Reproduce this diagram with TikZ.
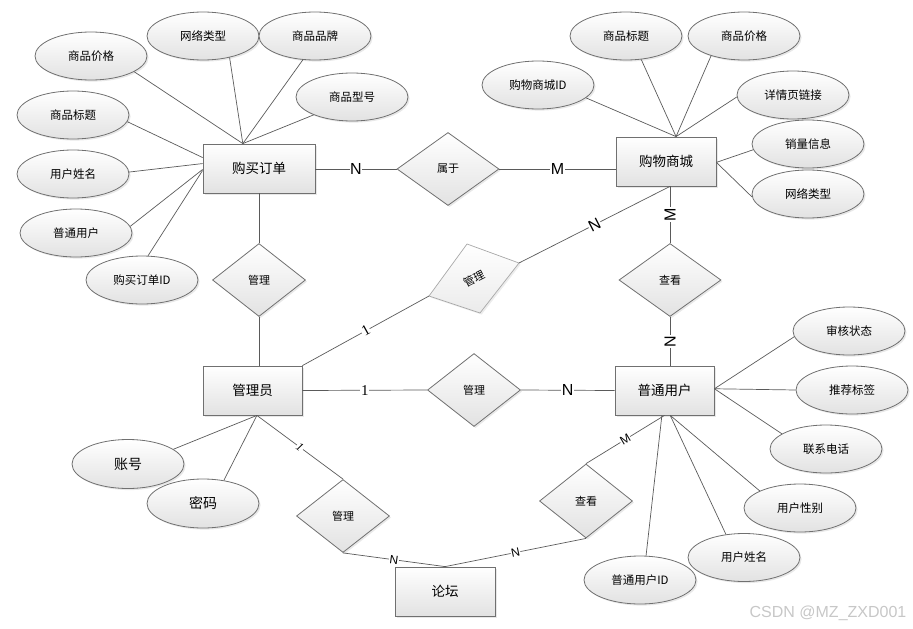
\documentclass[tikz,border=0pt]{standalone}
\usepackage{fontspec}
\newfontfamily\cjk{Noto Sans CJK SC}
\newfontfamily\lab{Liberation Sans}
\newfontfamily\labs{Liberation Serif}
\usetikzlibrary{shapes.geometric,shadows}
\definecolor{edgec}{HTML}{5A5A5A}
\definecolor{bord}{HTML}{707070}
\definecolor{bordl}{HTML}{A8A8A8}
\definecolor{fillb}{HTML}{E2E2E2}
\begin{document}
\begin{tikzpicture}[x=1pt,y=-1pt,
 every node/.style={font=\cjk},
 base/.style={draw=bord, line width=0.8pt, top color=white, bottom color=fillb,
   drop shadow={shadow xshift=1.6pt,shadow yshift=-1.6pt,opacity=0.18}},
 ent/.style={base, rectangle, minimum width=100pt, minimum height=49pt, inner sep=0pt, font=\cjk\fontsize{13.5}{14}\selectfont},
 attr/.style={base, ellipse, minimum width=112pt, minimum height=48pt, inner sep=0pt, font=\cjk\fontsize{11.5}{12}\selectfont},
 rel/.style={base, diamond, minimum width=93pt, minimum height=73pt, inner sep=0pt, font=\cjk\fontsize{11}{12}\selectfont},
 ln/.style={draw=edgec, line width=0.7pt},
 card/.style={fill=white, inner sep=0.6pt, font=\lab\fontsize{16}{16}\selectfont},
 cards/.style={fill=white, inner sep=0.6pt, font=\lab\fontsize{12}{12}\selectfont},
 one/.style={fill=white, inner sep=0.6pt, font=\labs\fontsize{15}{15}\selectfont},
 ones/.style={fill=white, inner sep=0.6pt, font=\labs\itshape\fontsize{12}{12}\selectfont},
]
\useasboundingbox (0,0) rectangle (913,629);

% ---------- entities
\node[ent, minimum width=112pt] (order) at (259,168.5) {购买订单};
\node[ent] (mall)  at (666,161.5) {购物商城};
\node[ent, minimum width=99pt] (admin) at (252.5,390.5) {管理员};
\node[ent, minimum width=99pt] (user)  at (664.5,390.5) {普通用户};
\node[ent] (forum) at (445,591.5) {论坛};

% ---------- relations
\node[rel, minimum width=102pt] (r1) at (448,169) {属于};
\node[rel] (r2) at (259,280) {管理};
\node[rel, minimum width=102pt] (r4) at (670,280) {查看};
\node[rel] (r5) at (474,390) {管理};
\node[rel] (r6) at (343,516) {管理};
\node[rel, minimum height=74pt] (r7) at (586,501) {查看};

% skewed relation
\coordinate (r3t) at (467,244);
\coordinate (r3r) at (519,263);
\coordinate (r3b) at (480,313);
\coordinate (r3l) at (429,296);
\path[draw=bordl, line width=0.7pt, top color=white, bottom color=fillb!70!white,
   drop shadow={shadow xshift=1.6pt,shadow yshift=-1.6pt,opacity=0.15}]
   (r3t) -- (r3r) -- (r3b) -- (r3l) -- cycle;
\node[font=\cjk\fontsize{11}{12}\selectfont, rotate=27] (r3) at (474,279) {管理};

% ---------- attributes of 购买订单
\node[attr] (a1) at (91,56)  {商品价格};
\node[attr] (a2) at (203,36) {网络类型};
\node[attr] (a3) at (315,36) {商品品牌};
\node[attr] (a4) at (352,97) {商品型号};
\node[attr] (a5) at (73,115) {商品标题};
\node[attr] (a6) at (73,174) {用户姓名};
\node[attr] (a7) at (76,233) {普通用户};
\node[attr] (a8) at (142,280) {购买订单ID};

% ---------- attributes of 购物商城
\node[attr] (b1) at (626,36) {商品标题};
\node[attr] (b2) at (744,36) {商品价格};
\node[attr] (b3) at (538,85) {购物商城ID};
\node[attr] (b4) at (793,95) {详情页链接};
\node[attr] (b5) at (808,144) {销量信息};
\node[attr] (b6) at (808,194) {网络类型};

% ---------- attributes of 管理员
\node[attr, minimum height=49pt, font=\cjk\fontsize{14}{15}\selectfont] (c1) at (128,464) {账号};
\node[attr, minimum height=49pt, font=\cjk\fontsize{14}{15}\selectfont] (c2) at (203,503.5) {密码};

% ---------- attributes of 普通用户
\node[attr] (d1) at (849,331) {审核状态};
\node[attr] (d2) at (852,390) {推荐标签};
\node[attr] (d3) at (826,449) {联系电话};
\node[attr] (d4) at (800,508) {用户性别};
\node[attr] (d5) at (744,557.5) {用户姓名};
\node[attr] (d6) at (640,580) {普通用户ID};

% ---------- attribute connectors
\draw[ln] (a1.-20) -- (order.123);
\draw[ln] (a2.-39) -- (order.123);
\draw[ln] (a3.-117) -- (order.123);
\draw[ln] (a4.-155) -- (order.123);
\draw[ln] (a5.-7) -- (order.169);
\draw[ln] (a6.2) -- (order.175);
\draw[ln] (a7.7) -- (order.181);
\draw[ln] (a8.76) -- (order.182);

\draw[ln] (b3.-15) -- (mall.68);
\draw[ln] (b1.-57) -- (mall.68);
\draw[ln] (b2.-149) -- (mall.68);
\draw[ln] (b4.182) -- (mall.68);
\draw[ln] (b5.186) -- (mall.-1);
\draw[ln] (b6.183) -- (mall.-1);

\draw[ln] (c1.18) -- (admin.-80);
\draw[ln] (c2.48) -- (admin.-80);

\draw[ln] (d1.186) -- (user.2);
\draw[ln] (d2.180) -- (user.2);
\draw[ln] (d3.161) -- (user.2);
\draw[ln] (d4.157) -- (user.-77);
\draw[ln] (d5.128) -- (user.-77);
\draw[ln] (d6.76) -- (user.-96);

% ---------- relationship connectors
\draw[ln] (order.east |- r1.west) -- node[card] {N} (r1.west);
\draw[ln] (r1.east) -- node[card] {M} (mall.west |- r1.east);
\draw[ln] (order.south -| r2.north) -- (r2.north);
\draw[ln] (r2.south) -- (admin.north -| r2.south);
\draw[ln] (mall.-81) -- node[card, rotate=27] {N} (r3r);
\draw[ln] (admin.north east) -- node[one, rotate=29] {1} (r3l);
\draw[ln] (mall.south -| r4.north) -- node[card, rotate=90] {M} (r4.north);
\draw[ln] (r4.south) -- node[card, rotate=90] {N} (user.north -| r4.south);
\draw[ln] (admin.east) -- node[one] {1} (r5.west);
\draw[ln] (r5.east) -- node[card] {N} (user.west);
\draw[ln] (admin.-80) -- node[ones, rotate=-36] {1} (r6.north);
\draw[ln] (r6.south) -- node[cards, rotate=-8] {N} (forum.north);
\draw[ln] (user.-90) -- node[cards, rotate=31] {M} (r7.north);
\draw[ln] (r7.south) -- node[cards, rotate=12] {N} (forum.north);

% ---------- watermark
\node[font=\lab\fontsize{16}{16}\selectfont, text=black!22, inner sep=0pt] (wm) at (828,613) {CSDN @MZ\_ZXD001};
\end{tikzpicture}
\end{document}
